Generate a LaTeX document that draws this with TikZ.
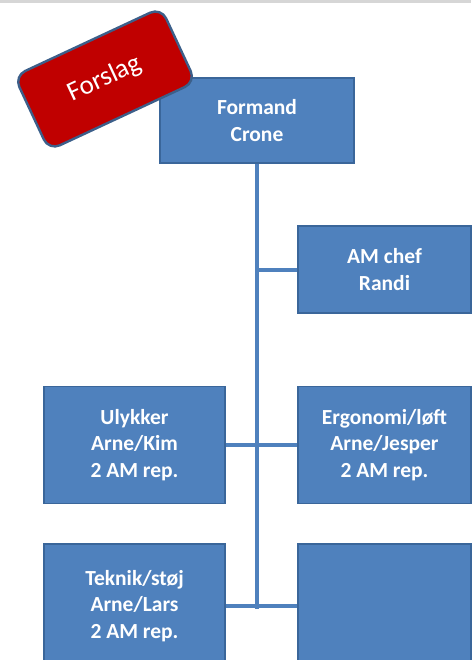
\documentclass[tikz,border=0pt]{standalone}
\usepackage{fontspec}
\setmainfont{Carlito}
\usetikzlibrary{positioning}

\definecolor{boxblue}{HTML}{4F81BD}
\definecolor{boxedge}{HTML}{3A669A}
\definecolor{forslagred}{HTML}{C00000}
\definecolor{forslagedge}{HTML}{3C5F8A}
\definecolor{topgray}{HTML}{D6D6D6}

\tikzset{
  orgbox/.style={draw=boxedge, line width=1.8pt, fill=boxblue, rectangle,
    text=white, font=\fontsize{21.5}{26.5}\selectfont\bfseries, align=center,
    inner sep=0pt, minimum width=181pt, minimum height=117pt},
  sidebox/.style={orgbox, minimum width=173pt},
  forslagbox/.style={draw=forslagedge, line width=2.4pt, fill=forslagred,
    rounded corners=12pt, text=white, font=\fontsize{27}{30}\selectfont,
    minimum width=162pt, minimum height=82pt},
  conn/.style={draw=boxblue, line width=4pt}
}

\begin{document}
\begin{tikzpicture}[x=1pt,y=-1pt]
\useasboundingbox (0,0) rectangle (471,660);
\fill[topgray] (0,0) rectangle (471,3.5);

\node[orgbox, minimum width=194pt, minimum height=85pt] (formand) at (257,120.5) {Formand\\Crone};
\node[sidebox, minimum height=87pt] (amchef) at (384.5,269.5) {AM chef\\Randi};
\node[orgbox] (ulykker) at (134.5,445) {Ulykker\\Arne/Kim\\2 AM rep.};
\node[sidebox] (ergonomi) at (384.5,445) {Ergonomi/løft\\Arne/Jesper\\2 AM rep.};
\node[orgbox, minimum height=124pt] (teknik) at (134.5,606) {Teknik/støj\\Arne/Lars\\2 AM rep.};
\node[sidebox, minimum height=124pt] (tomboks) at (384.5,606) {};
\coordinate (trunkend) at (257,609);

\draw[conn] (formand.south) -- (trunkend);
\draw[conn] (amchef.west) -- (amchef.west -| formand.south);
\draw[conn] (ulykker.east) -- (ergonomi.west);
\draw[conn] (teknik.east) -- (tomboks.west);

\node[forslagbox, rotate=25] (forslag) at (105,79) {Forslag};
\end{tikzpicture}
\end{document}
